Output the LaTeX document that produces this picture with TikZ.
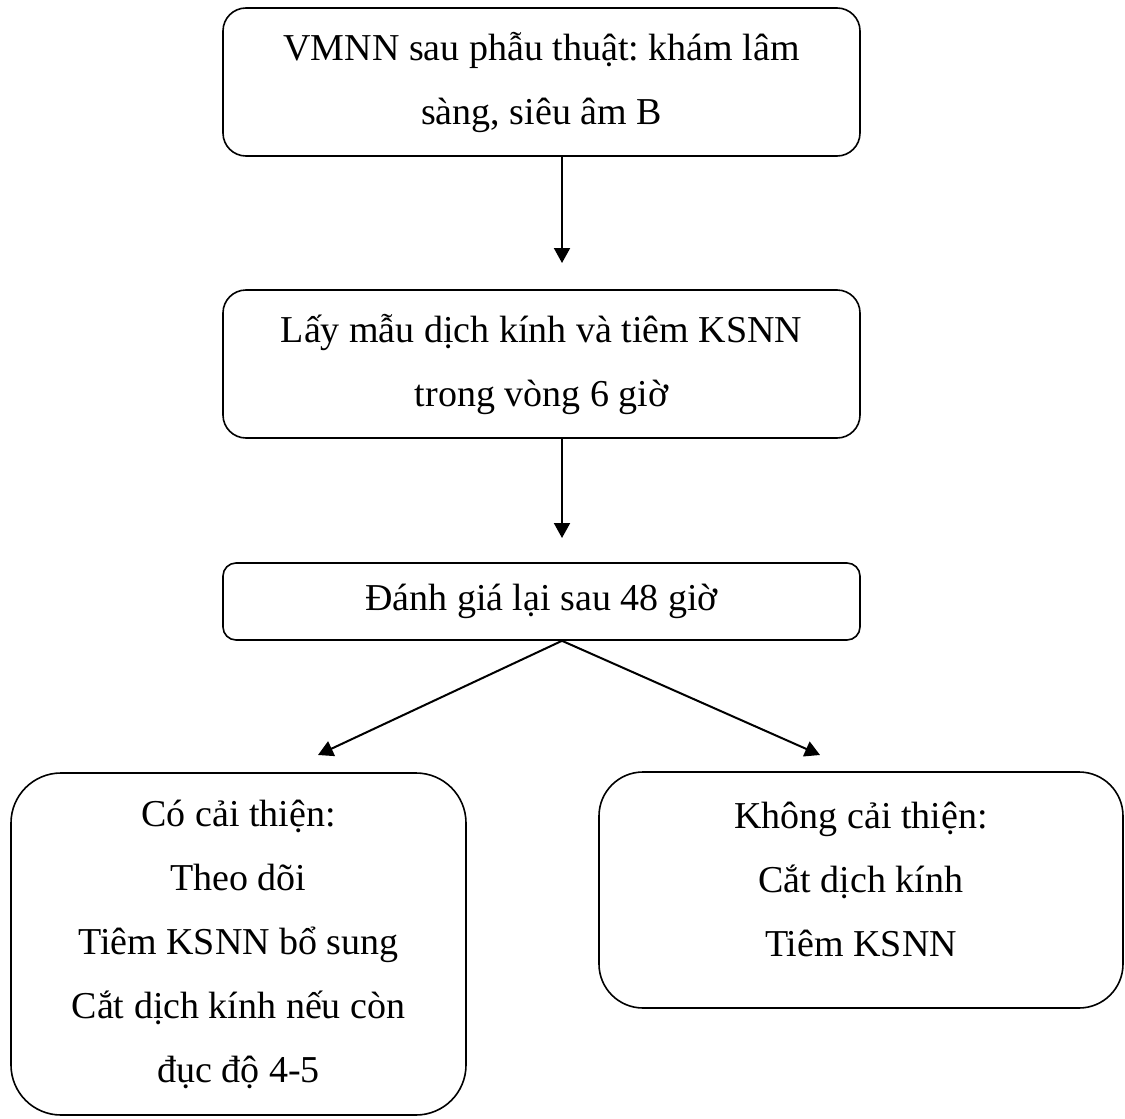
\documentclass[tikz,border=0pt]{standalone}
\usepackage{fontspec}
\setmainfont{Liberation Serif}
\frenchspacing
\usetikzlibrary{arrows.meta}
\usetikzlibrary{positioning}

\tikzset{
    box/.style = {draw, rounded corners = 11.5pt, line width = 0.8pt, minimum width = 318.5pt, align = center},
    link/.style = {line width = 1pt, -{Triangle[length = 7.5pt, width = 8pt]}}
}

\begin{document}
\begin{tikzpicture}[x = 0.5pt, y = -0.5pt, font = \fontsize{19}{32}\selectfont]

            \useasboundingbox (0,0) rectangle (1125,1119);
            % Define boxes
            \node[box, minimum height = 74pt] (exam) at (541.5,82) {VMNN sau phẫu thuật: khám lâm\\sàng, siêu âm B};
            \node[box, minimum height = 74pt] (sample) at (541.5,364) {Lấy mẫu dịch kính và tiêm KSNN\\trong vòng 6 giờ};
            \node[box, minimum height = 38.5pt, rounded corners = 6.5pt] (review) at (541.5,601.5) {Đánh giá lại sau 48 giờ};
            \node[box, minimum width = 227.5pt, minimum height = 171pt, rounded corners = 25pt] (better) at (238.5,944) {Có cải thiện:\\Theo dõi\\Tiêm KSNN bổ sung\\Cắt dịch kính nếu còn\\đục độ 4-5};
            \node[box, minimum width = 262pt, minimum height = 118pt, rounded corners = 22pt, text depth = 11pt] (worse) at (861,890) {Không cải thiện:\\Cắt dịch kính\\Tiêm KSNN};
            % Arrows
            \coordinate (e1) at (562,263);
            \coordinate (e2) at (562,538);
            \coordinate (eleft) at (318,755);
            \coordinate (eright) at (820,755);
            \draw[link] (exam.south -| e1) -- (e1);
            \draw[link] (sample.south -| e2) -- (e2);
            \draw[link] (review.south -| e2) -- (eleft);
            \draw[link] (review.south -| e2) -- (eright);
        \end{tikzpicture}
\end{document}
